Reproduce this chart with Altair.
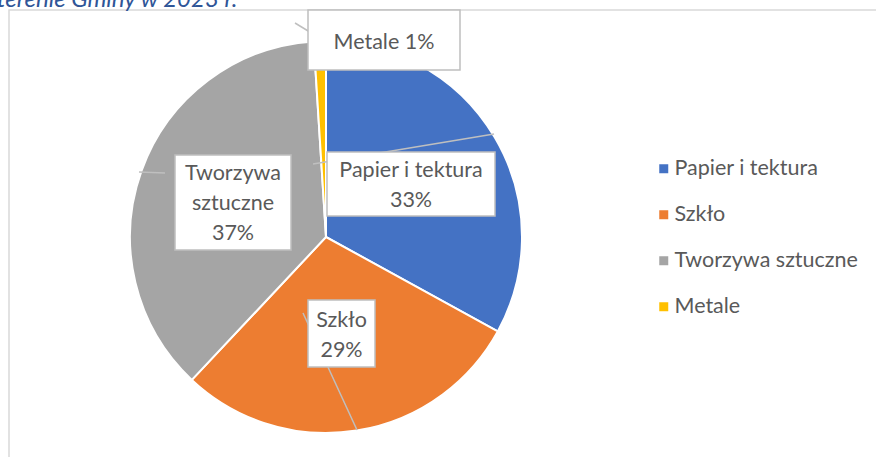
import altair as alt
import pandas as pd

# ---- data ----
categories = ["Papier i tektura", "Szkło", "Tworzywa sztuczne", "Metale"]
percents = [33, 29, 37, 1]
label_lines = ["Papier i tektura\n33%", "Szkło\n29%", "Tworzywa\nsztuczne\n37%", "Metale 1%"]
colors = ["#4472C4", "#ED7D31", "#A5A5A5", "#FFC000"]
title_text = "terenie Gminy w 2023 r."

# ---- layout (pixel positions of the manually placed labels) ----
box_x = [327, 308, 175, 308]
box_y = [152, 300, 155, 10]
box_x2 = [495, 375, 291, 460]
box_y2 = [216, 367, 250, 70]
txt_x = [411, 341.5, 233, 384]
txt_y = [171, 321, 174, 43]   # centre of first line
lead_x = [313, 303, 139, 295]
lead_y = [164, 313, 172, 23]
lead_x2 = [494, 357, 165, 318]
lead_y2 = [134, 430, 173, 37]

FONT = "Lato"
W, H = 876, 457
CX, CY, R = 326, 237, 196

pie_df = pd.DataFrame({"cat": categories, "pct": percents, "ord": list(range(len(categories)))})
lab_df = pd.DataFrame({
    "cat": categories, "label": label_lines,
    "bx": box_x, "by": box_y, "bx2": box_x2, "by2": box_y2,
    "tx": txt_x, "ty": txt_y,
    "lx": lead_x, "ly": lead_y, "lx2": lead_x2, "ly2": lead_y2,
})

border = alt.Chart(pd.DataFrame({"a": [0]})).mark_rect(
    fill=None, stroke="#D9D9D9", strokeWidth=1.5
).encode(x=alt.value(9), y=alt.value(10), x2=alt.value(W + 10), y2=alt.value(H + 10))

title = alt.Chart(pd.DataFrame({"t": [title_text]})).mark_text(
    align="left", baseline="alphabetic", font=FONT, fontSize=24, fontStyle="italic", color="#2F5597"
).encode(x=alt.value(-3), y=alt.value(7), text="t:N")

pie = alt.Chart(pie_df).mark_arc(
    outerRadius=R, stroke="white", strokeWidth=2
).encode(
    theta=alt.Theta("pct:Q", stack=True),
    order=alt.Order("ord:Q"),
    color=alt.Color(
        "cat:N",
        scale=alt.Scale(domain=categories, range=colors),
        sort=categories,
        legend=alt.Legend(
            title=None, orient="none", legendX=653, legendY=158,
            symbolType="square", symbolSize=81, symbolStrokeWidth=0,
            labelFont=FONT, labelFontSize=21.5, labelColor="#595959",
            labelOffset=0, rowPadding=23, labelLimit=400,
        ),
    ),
    x=alt.value(CX), y=alt.value(CY),
)

leaders = alt.Chart(lab_df).mark_rule(color="#BFBFBF", strokeWidth=1.5).encode(
    x=alt.X("lx:Q", scale=None), y=alt.Y("ly:Q", scale=None),
    x2="lx2:Q", y2="ly2:Q",
)

boxes = alt.Chart(lab_df).mark_rect(fill="white", stroke="#BFBFBF", strokeWidth=1.5).encode(
    x=alt.X("bx:Q", scale=None), y=alt.Y("by:Q", scale=None),
    x2="bx2:Q", y2="by2:Q",
)

texts = alt.Chart(lab_df).mark_text(
    align="center", baseline="middle", font=FONT, fontSize=21.5, color="#595959",
    lineBreak="\n", lineHeight=30,
).encode(
    x=alt.X("tx:Q", scale=None), y=alt.Y("ty:Q", scale=None), text="label:N",
)

chart = alt.layer(border, title, pie, leaders, boxes, texts).properties(
    width=W, height=H, padding=0, autosize=alt.AutoSizeParams(type="none"),
    background="white",
).configure_view(stroke=None)

chart.save("out.html", embed_options={"renderer": "svg", "actions": False})
